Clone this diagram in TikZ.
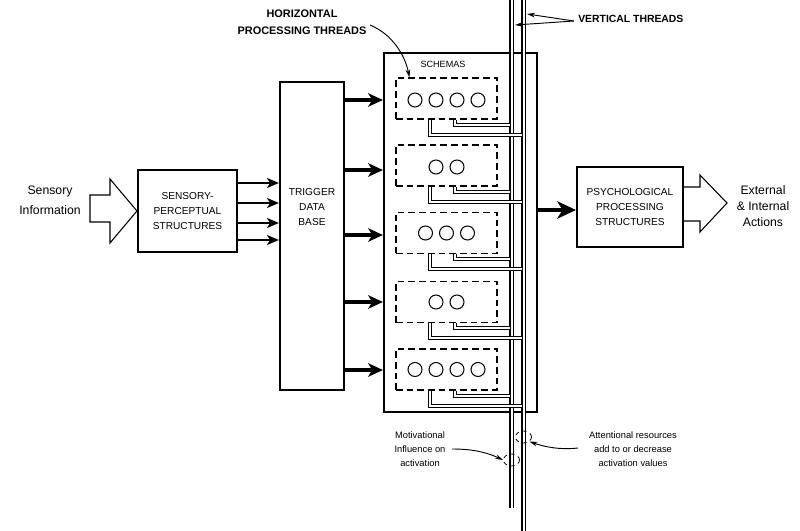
\documentclass[tikz,border=0pt]{standalone}
\usepackage{fontspec}
\setmainfont{Liberation Sans}
\usetikzlibrary{arrows.meta,calc,shapes.geometric}
\begin{document}
\begin{tikzpicture}[x=0.75pt,y=-0.75pt,
  every node/.style={inner sep=0pt, align=center},
  box/.style={draw, line width=1.6pt, font=\fontsize{7.6}{11.5}\selectfont},
  boxtext/.style={font=\fontsize{7.6}{11.5}\selectfont},
  schema/.style={draw, line width=0.9pt, dash pattern=on 5pt off 3pt, minimum width=75.75pt, minimum height=30.75pt},
  ring/.style={draw, circle, line width=0.8pt, minimum size=10.5pt},
  thread/.style={draw=black, line width=0.75pt, double=white, double distance=1.4pt},
  vthread/.style={draw=black, line width=0.9pt, double=white, double distance=1.5pt},
  bigarrow/.style={line width=2.4pt, -{Stealth[length=11pt,width=10pt,inset=3pt]}},
  midarrow/.style={line width=2pt, -{Stealth[length=9pt,width=7.5pt,inset=2.5pt]}},
  psyarrow/.style={line width=3pt, -{Stealth[length=14pt,width=13pt,inset=4pt]}},
  thinarrow/.style={line width=0.7pt, -{Stealth[length=6pt,width=3.5pt]}},
  hollow/.style={draw, line width=0.8pt},
  heading/.style={font=\bfseries\fontsize{8.2}{12.5}\selectfont},
  side/.style={font=\fontsize{9.2}{15}\selectfont},
  note/.style={font=\fontsize{7}{10.5}\selectfont},
  ring2/.style={draw, ellipse, dashed, line width=0.6pt, minimum width=12pt, minimum height=9pt}
]
\useasboundingbox (0,0) rectangle (800,531);

% labels on the left / right
\node[side] (sens) at (50,200.5) {Sensory\\Information};
\node[side, font=\fontsize{9.2}{12}\selectfont] (ext) at (763,206) {External\\\& Internal\\Actions};

% main boxes
\node[box, minimum width=74.25pt, minimum height=61.5pt] (sp) at (187.5,211) {SENSORY-\\PERCEPTUAL\\STRUCTURES};
\node[box, minimum width=48pt, minimum height=231pt] (trig) at (312,236) {};
\node[boxtext] (trigtxt) at (312,207) {TRIGGER\\DATA\\BASE};
\node[box, minimum width=114.75pt, minimum height=269.25pt] (sch) at (460.5,232.5) {};
\node[font=\fontsize{6.8}{8}\selectfont] (schl) at (443,64) {SCHEMAS};
\node[box, minimum width=79.5pt, minimum height=60pt] (psy) at (630,207) {PSYCHOLOGICAL\\PROCESSING\\STRUCTURES};

% hollow arrows
\draw[hollow] (90,195) -- (110,195) -- (110,179) -- (sp.west) -- (110,243) -- (110,222) -- (90,222) -- cycle;
\draw[hollow] (psy.east |- 0,187) -- (700,187) -- (700,175) -- (727,203) -- (700,232) -- (700,221) -- (psy.east |- 0,221);

% schema boxes with circles
\node[schema] (s1) at (446.5,98.5) {};
\node[schema] (s2) at (446.5,165.5) {};
\node[schema] (s3) at (446.5,233) {};
\node[schema] (s4) at (446.5,302) {};
\node[schema] (s5) at (446.5,369.5) {};
\foreach \k in {0,1,2,3} \node[ring] (c1\k) at ($(s1.center)+(-31.5+21*\k,1.5)$) {};
\foreach \k in {0,1} \node[ring] (c2\k) at ($(s2.center)+(-10.5+21*\k,1.5)$) {};
\foreach \k in {0,1,2} \node[ring] (c3\k) at ($(s3.center)+(-21+21*\k,0)$) {};
\foreach \k in {0,1} \node[ring] (c4\k) at ($(s4.center)+(-10.5+21*\k,0)$) {};
\foreach \k in {0,1,2,3} \node[ring] (c5\k) at ($(s5.center)+(-31.5+21*\k,0)$) {};

% vertical threads
\coordinate (LTt) at (511.5,0);
\coordinate (LTb) at (511.5,508);
\coordinate (RTt) at (523.5,0);
\coordinate (RTb) at (523.5,531);
\draw[vthread] (LTt) -- (LTb);
\draw[vthread] (RTt) -- (RTb);

% horizontal threads
\foreach \s in {s1,s2,s3,s4,s5}{
  \draw[thread] ($(\s.south)+(8.5,0)$) |- ($(LTt |- \s.south)+(-2,5)$);
  \draw[thread] ($(\s.south)+(-16.5,0)$) |- ($(RTt |- \s.south)+(-2,15)$);
}

% arrows sensory -> trigger
\foreach \yy in {183,203,223,240} \draw[midarrow] (sp.east |- 0,\yy) -- (trig.west |- 0,\yy);
% arrows trigger -> schemas
\foreach \yy in {100,170,235,302,370} \draw[bigarrow] (trig.east |- 0,\yy) -- (sch.west |- 0,\yy);
% schemas -> psychological
\draw[psyarrow] (sch.east |- 0,210) -- (psy.west |- 0,210);

% headings
\node[heading] (hpt) at (302,22) {HORIZONTAL\\PROCESSING THREADS};
\coordinate (h0) at (370,25);
\draw[thinarrow] (h0) .. controls (392,34) and (405,55) .. ($(s1.north west)+(14,0)$);

\node[heading, font=\bfseries\fontsize{7.8}{12}\selectfont, anchor=west] (vt) at (578,19) {VERTICAL THREADS};
\coordinate (v0) at (574,21);
\coordinate (v1) at (527,14);
\coordinate (v2) at (515,25);
\draw[thinarrow] (v0) -- (v1);
\draw[thinarrow] (v0) -- (v2);

% bottom notes
\node[ring2] (mot) at (511.5,460) {};
\node[ring2] (att) at (523.5,437) {};
\node[note] (motl) at (420,449) {Motivational\\Influence on\\activation};
\node[note] (attl) at (633,449) {Attentional resources\\add to or decrease\\activation values};
\coordinate (m0) at (452,449);
\coordinate (a0) at (578,448);
\draw[thinarrow] (m0) .. controls (472,449) and (486,452) .. (mot.west);
\draw[thinarrow] (a0) .. controls (560,450) and (545,447) .. (att.south east);
\end{tikzpicture}
\end{document}
